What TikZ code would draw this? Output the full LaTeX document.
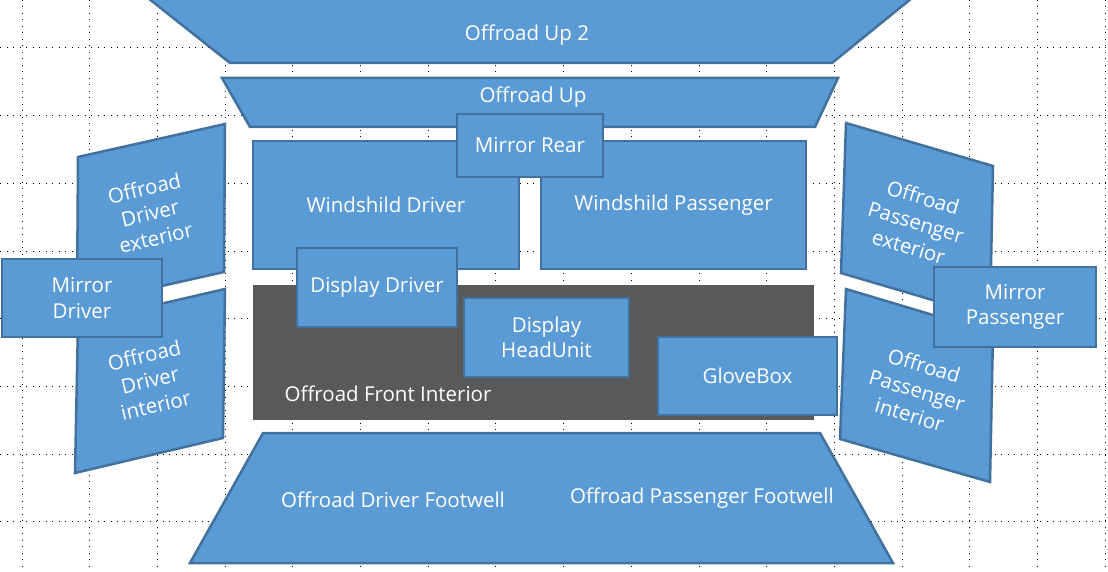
\documentclass[tikz,border=0pt]{standalone}
\usepackage{fontspec}
\setmainfont{Open Sans}
\definecolor{panelblue}{HTML}{5B9BD5}
\definecolor{paneledge}{HTML}{41719C}
\definecolor{darkpanel}{HTML}{595959}
\begin{document}
\begin{tikzpicture}[
      x=1pt, y=-1pt,
      panel/.style={draw=paneledge, fill=panelblue, line width=2.5pt, line join=miter},
      box/.style={panel, minimum width=#1, inner sep=0pt, font=\fontsize{20.5}{25.5}\selectfont,
                  text=white, align=center},
      lbl/.style={font=\fontsize{20.5}{25.5}\selectfont, text=white, align=center, inner sep=0pt},
      gridline/.style={line width=1pt, dash pattern=on 1pt off 5.5pt}
    ]
      \useasboundingbox (0,0) rectangle (1108,572);
      % dotted grid behind everything
      \foreach \i in {0,...,16} {
        \draw[gridline] (22+67.7*\i,0) -- (22+67.7*\i,572);
      }
      \foreach \j in {0,...,7} {
        \draw[gridline] (0,48+67.7*\j) -- (1108,48+67.7*\j);
      }
      % top panels
      \draw[panel] (148,-2) -- (912,-2) -- (832,63) -- (230,63) -- cycle;
      \node[lbl] (up2) at (527,35) {Offroad Up 2};
      \draw[panel] (222,78) -- (838,78) -- (815,127) -- (250,127) -- cycle;
      \node[lbl] (up) at (533,97) {Offroad Up};
      % windshields
      \node[box=266pt, minimum height=128pt] (wsdrv) at (386,205) {Windshild Driver};
      \node[box=265pt, minimum height=128pt] (wspas) at (673.5,205) {Windshild Passenger};
      \node[box=146pt, minimum height=63pt] (mirrear) at (530,145.5) {Mirror Rear};
      % front interior
      \node[fill=darkpanel, minimum width=561pt, minimum height=135pt, inner sep=0pt] (front) at (533.5,352.5) {};
      \node[lbl] (frontlbl) at (388,394) {Offroad Front Interior};
      \node[box=160pt, minimum height=79pt] (dispdrv) at (377,287.5) {Display Driver};
      \node[box=165pt, minimum height=79pt] (headunit) at (546.5,337.5) {Display\\HeadUnit};
      \node[box=179pt, minimum height=78pt] (glove) at (747.5,376) {GloveBox};
      % driver side
      \draw[panel] (78,157) -- (225,124) -- (224,272) -- (77,305) -- cycle;
      \node[lbl, rotate=13] (drvext) at (150,213) {Offroad\\Driver\\exterior};
      \draw[panel] (78,323) -- (225,289) -- (223,438) -- (75,473) -- cycle;
      \node[lbl, rotate=13] (drvint) at (150,380) {Offroad\\Driver\\interior};
      \node[box=160pt, minimum height=78pt] (mirdrv) at (82,298) {Mirror\\Driver};
      % passenger side
      \draw[panel] (846,123) -- (993,166) -- (990,317) -- (841,273) -- cycle;
      \node[lbl, rotate=-16.5] (pasext) at (916,222) {Offroad\\Passenger\\exterior};
      \draw[panel] (846,289) -- (993,333) -- (990,482) -- (840,439) -- cycle;
      \node[lbl, rotate=-16.5] (pasint) at (917,390) {Offroad\\Passenger\\interior};
      \node[box=162pt, minimum height=80pt] (mirpas) at (1015,307) {Mirror\\Passenger};
      % footwell
      \draw[panel] (263,433) -- (820,433) -- (893,563) -- (190,563) -- cycle;
      \node[lbl] (fwdrv) at (393,500) {Offroad Driver Footwell};
      \node[lbl] (fwpas) at (702,498) {Offroad Passenger Footwell};
    \end{tikzpicture}
\end{document}
